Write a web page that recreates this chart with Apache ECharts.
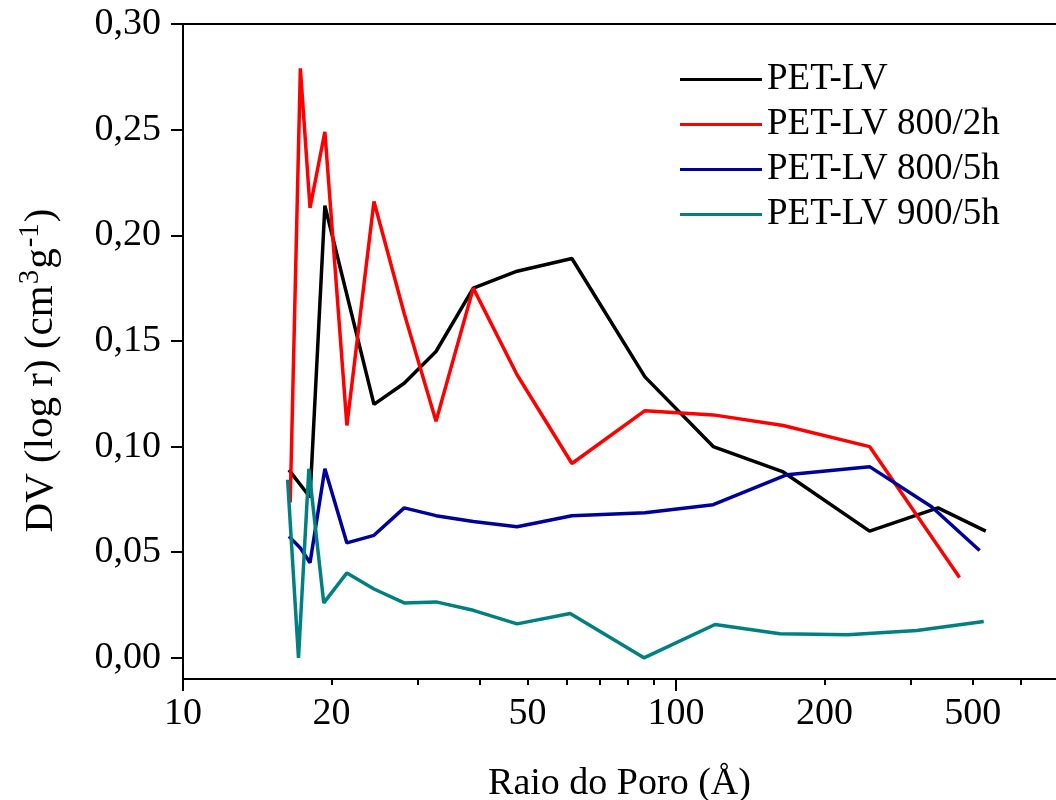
<!DOCTYPE html>
<html>
<head>
<meta charset="utf-8">
<script src="https://cdn.jsdelivr.net/npm/echarts@6/dist/echarts.min.js"></script>
<style>html,body{margin:0;padding:0;background:#fff}#c{width:1056px;height:800px}</style>
</head>
<body>
<div id="c"></div>
<script>
// ---- data (pore radius in Å, dV/dlog r in cm3/g) ----
var seriesNames = ['PET-LV', 'PET-LV 800/2h', 'PET-LV 800/5h', 'PET-LV 900/5h'];
var rBlack = [16.4, 18.1, 19.4, 24.4, 28.1, 32.6, 38.8, 47.6, 61.5, 86.5, 119, 165, 247, 340, 425];
var vBlack = [0.089, 0.076, 0.214, 0.120, 0.130, 0.145, 0.175, 0.183, 0.189, 0.133, 0.100, 0.088, 0.060, 0.071, 0.060];
var rRed = [16.5, 17.3, 18.1, 19.4, 21.5, 24.4, 28.1, 32.6, 38.8, 47.6, 61.5, 86.5, 119, 165, 247, 376];
var vRed = [0.0735, 0.279, 0.213, 0.249, 0.110, 0.216, 0.163, 0.112, 0.175, 0.134, 0.092, 0.117, 0.115, 0.110, 0.100, 0.038];
var rBlue = [16.4, 17.3, 18.1, 19.4, 21.5, 24.4, 28.1, 32.6, 38.8, 47.6, 61.5, 86.5, 119, 168, 247, 330, 413];
var vBlue = [0.0575, 0.052, 0.045, 0.0895, 0.0544, 0.058, 0.071, 0.0673, 0.0645, 0.0621, 0.0673, 0.0687, 0.0725, 0.0867, 0.0905, 0.0715, 0.0508];
var rTeal = [16.3, 17.15, 18.0, 19.3, 21.5, 24.4, 28.1, 32.6, 38.8, 47.6, 61, 86.1, 120, 162.5, 223, 308, 421];
var vTeal = [0.0843, 0.0, 0.0895, 0.026, 0.0402, 0.0326, 0.026, 0.0265, 0.0225, 0.0161, 0.021, 0.0, 0.0158, 0.0114, 0.0109, 0.0130, 0.0172];
var seriesColors = ['#000000', '#ff0000', '#00009c', '#008080'];

// ---- axis ticks / labels ----
var xMin = 10, xMax = 590;
var xMajorTicks = [10, 100];
var xMinorTicks = [20, 30, 40, 50, 60, 70, 80, 90, 200, 300, 400, 500];
var xLabelValues = [10, 20, 50, 100, 200, 400];
var xLabelTexts = ['10', '20', '50', '100', '200', '500'];
var yMin = -0.01, yMax = 0.30;
var yTicks = [0, 0.05, 0.10, 0.15, 0.20, 0.25, 0.30];

var FONT = '"Liberation Serif", "Times New Roman", serif';

function pairs(r, v) { return r.map(function (x, i) { return [x, v[i]]; }); }
var allR = [rBlack, rRed, rBlue, rTeal];
var allV = [vBlack, vRed, vBlue, vTeal];

var chart = echarts.init(document.getElementById('c'), null, { renderer: 'canvas' });
var option = {
  backgroundColor: '#ffffff',
  animation: false,
  grid: { left: 183, right: 0, top: 24, bottom: 121, containLabel: false, outerBoundsMode: 'none' },
  legend: {
    orient: 'vertical', left: 675, top: 56,
    icon: 'rect', itemWidth: 82, itemHeight: 3, itemGap: 8,
    textStyle: { fontFamily: FONT, fontSize: 37, color: '#000' },
    data: seriesNames
  },
  xAxis: [
    {
      type: 'log', logBase: 10, min: xMin, max: xMax, position: 'bottom',
      name: 'Raio do Poro (Å)', nameLocation: 'middle', nameGap: 86,
      nameTextStyle: { fontFamily: FONT, fontSize: 38, color: '#000' },
      axisLine: { show: true, onZero: false, lineStyle: { color: '#000', width: 2 } },
      axisTick: { show: true, inside: false, length: 12, customValues: xMajorTicks, lineStyle: { color: '#000', width: 2 } },
      axisLabel: {
        show: true, margin: 16, customValues: xLabelValues,
        fontFamily: FONT, fontSize: 38, color: '#000',
        formatter: function (v) { var i = xLabelValues.indexOf(Math.round(v)); return i >= 0 ? xLabelTexts[i] : ''; }
      },
      splitLine: { show: false }, minorTick: { show: false }
    },
    {
      type: 'log', logBase: 10, min: xMin, max: xMax, position: 'bottom',
      axisLine: { show: false, onZero: false },
      axisTick: { show: true, inside: false, length: 6, customValues: xMinorTicks, lineStyle: { color: '#000', width: 2 } },
      axisLabel: { show: false },
      splitLine: { show: false }
    },
    {
      type: 'log', logBase: 10, min: xMin, max: xMax, position: 'top',
      axisLine: { show: true, onZero: false, lineStyle: { color: '#000', width: 2 } },
      axisTick: { show: false }, axisLabel: { show: false }, splitLine: { show: false }
    }
  ],
  yAxis: [{
    type: 'value', min: yMin, max: yMax, position: 'left',
    name: '{m|DV (log r) (cm}{s|3}{m|g}{s|-1}{m|)}',
    nameLocation: 'middle', nameGap: 116, nameRotate: 90,
    nameTextStyle: {
      fontFamily: FONT, color: '#000', padding: [0, 38, 0, 0],
      rich: {
        m: { fontFamily: FONT, fontSize: 41, color: '#000' },
        s: { fontFamily: FONT, fontSize: 29, color: '#000', padding: [0, 1, 22, 1] }
      }
    },
    axisLine: { show: true, onZero: false, lineStyle: { color: '#000', width: 2 } },
    axisTick: { show: true, inside: false, length: 12, customValues: yTicks, lineStyle: { color: '#000', width: 2 } },
    axisLabel: {
      show: true, margin: 22, customValues: yTicks,
      fontFamily: FONT, fontSize: 38, color: '#000',
      formatter: function (v) { return v.toFixed(2).replace('.', ','); }
    },
    splitLine: { show: false }
  }],
  series: seriesNames.map(function (n, i) {
    return {
      name: n, type: 'line', xAxisIndex: 0, yAxisIndex: 0,
      data: pairs(allR[i], allV[i]),
      symbol: 'none', showSymbol: false, smooth: false,
      lineStyle: { color: seriesColors[i], width: 3.5 },
      itemStyle: { color: seriesColors[i] },
      z: 2 + i
    };
  })
};
chart.setOption(option);
</script>
</body>
</html>
